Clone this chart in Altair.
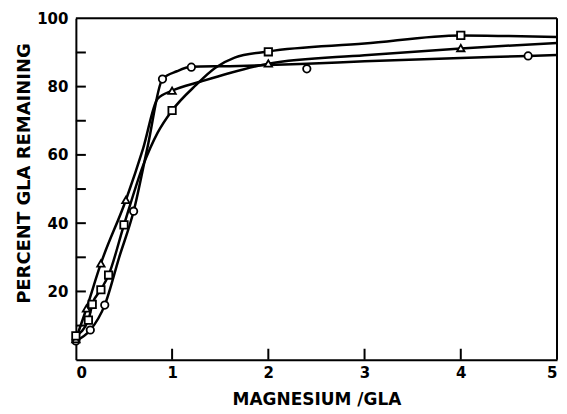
import altair as alt
import pandas as pd

# Marker points
circle_x = [0, 0.15, 0.3, 0.6, 0.9, 1.2, 2.4, 4.7]
circle_y = [5.5, 8.7, 16.0, 43.5, 82.2, 85.7, 85.2, 89.0]
triangle_x = [0, 0.11, 0.26, 0.52, 1.0, 2.0, 4.0]
triangle_y = [6.0, 15.0, 28.2, 46.8, 78.8, 86.8, 91.3]
square_x = [0, 0.13, 0.17, 0.26, 0.34, 0.5, 1.0, 2.0, 4.0]
square_y = [7.0, 11.6, 16.2, 20.5, 24.8, 39.5, 73.0, 90.2, 95.0]

# Hand-drawn curves
circle_cx = [0, 0.15, 0.3, 0.45, 0.6, 0.75, 0.9, 1.05, 1.2, 1.6, 2.0, 2.4, 3.0, 4.0, 4.7, 5.0]
circle_cy = [5.5, 8.7, 16.0, 30.0, 43.5, 63.0, 82.2, 84.5, 85.8, 86.0, 86.3, 86.7, 87.4, 88.4, 89.0, 89.3]
triangle_cx = [0, 0.11, 0.26, 0.52, 0.7, 0.85, 1.0, 1.3, 1.6, 2.0, 3.0, 4.0, 5.0]
triangle_cy = [6.0, 15.0, 28.2, 46.8, 62.0, 76.5, 78.8, 81.5, 84.0, 86.7, 89.2, 91.2, 92.8]
square_cx = [0, 0.13, 0.17, 0.26, 0.34, 0.5, 0.7, 0.85, 1.0, 1.25, 1.45, 1.65, 2.0, 3.0, 4.0, 4.5, 5.0]
square_cy = [7.0, 11.6, 16.2, 20.5, 24.8, 39.5, 57.0, 66.5, 73.0, 80.5, 85.5, 88.5, 90.3, 92.6, 95.0, 94.8, 94.5]

y_minor_ticks = [10, 20, 30, 40, 50, 60, 70, 80, 90]
x_ticks = [1, 2, 3, 4]
y_labels = [20, 40, 60, 80, 100]
x_labels = [0, 1, 2, 3, 4, 5]

pts = pd.DataFrame(
    [{"x": a, "y": b, "s": "circle"} for a, b in zip(circle_x, circle_y)]
    + [{"x": a, "y": b, "s": "triangle"} for a, b in zip(triangle_x, triangle_y)]
    + [{"x": a, "y": b, "s": "square"} for a, b in zip(square_x, square_y)]
)
curves = pd.DataFrame(
    [{"x": a, "y": b, "s": "circle"} for a, b in zip(circle_cx, circle_cy)]
    + [{"x": a, "y": b, "s": "triangle"} for a, b in zip(triangle_cx, triangle_cy)]
    + [{"x": a, "y": b, "s": "square"} for a, b in zip(square_cx, square_cy)]
)

FONT = "DejaVu Sans"
W, H = 482, 342

xscale = alt.Scale(domain=[0, 5], nice=False, zero=False)
yscale = alt.Scale(domain=[0, 100], nice=False)

xax = alt.Axis(values=x_labels, format="d", ticks=False, grid=False, domainColor="black", domainWidth=2,
               labelFont=FONT, labelFontSize=15, labelFontWeight="bold", labelColor="black",
               labelPadding=6, title="MAGNESIUM /GLA", titleFont=FONT, titleFontSize=17,
               titleFontWeight="bold", titleColor="black", titleY=40, titleBaseline="middle")
yax = alt.Axis(values=y_labels, format="d", ticks=False, grid=False, domainColor="black", domainWidth=2,
               labelFont=FONT, labelFontSize=15, labelFontWeight="bold", labelColor="black",
               labelPadding=8, title="PERCENT GLA REMAINING", titleFont=FONT, titleFontSize=18,
               titleFontWeight="bold", titleColor="black", titleX=-51, titleY=155,
               titleBaseline="middle", titleAlign="center")

lines = alt.Chart(curves).mark_line(color="black", strokeWidth=2.5, interpolate="monotone").encode(
    x=alt.X("x:Q", scale=xscale, axis=xax),
    y=alt.Y("y:Q", scale=yscale, axis=yax),
    detail="s:N",
)

markers = alt.Chart(pts).mark_point(filled=True, fill="white", stroke="black", strokeWidth=1.8,
                                    size=55, opacity=1).encode(
    x=alt.X("x:Q", scale=xscale),
    y=alt.Y("y:Q", scale=yscale),
    shape=alt.Shape("s:N", scale=alt.Scale(domain=["circle", "triangle", "square"],
                                           range=["circle", "triangle-up", "square"]), legend=None),
)

yt = alt.Chart(pd.DataFrame({"v": y_minor_ticks})).mark_rule(color="black", strokeWidth=2).encode(
    y=alt.Y("v:Q", scale=yscale), x=alt.value(0), x2=alt.value(10))
xt = alt.Chart(pd.DataFrame({"v": x_ticks})).mark_rule(color="black", strokeWidth=2).encode(
    x=alt.X("v:Q", scale=xscale), y=alt.value(H), y2=alt.value(H - 11))

frame_top = alt.Chart(pd.DataFrame({"v": [100]})).mark_rule(color="black", strokeWidth=2).encode(
    y=alt.Y("v:Q", scale=yscale), x=alt.value(0), x2=alt.value(W))
frame_right = alt.Chart(pd.DataFrame({"v": [5]})).mark_rule(color="black", strokeWidth=2).encode(
    x=alt.X("v:Q", scale=xscale), y=alt.value(0), y2=alt.value(H))

chart = alt.layer(yt, xt, frame_top, frame_right, lines, markers).properties(
    width=W, height=H,
    autosize=alt.AutoSizeParams(type="none"),
    padding={"left": 68, "top": 10, "right": 2, "bottom": 48},
).configure_view(stroke=None).configure(background="white")

chart.save("out.html", embed_options={"renderer": "svg", "actions": False})
